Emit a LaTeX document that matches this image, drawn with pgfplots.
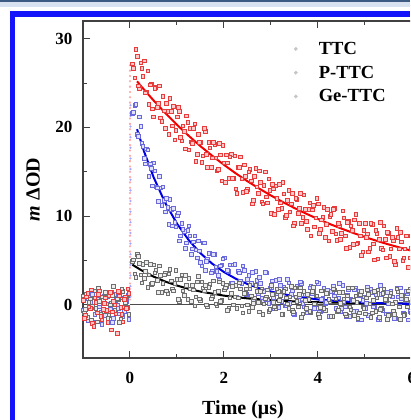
\documentclass[border=0pt]{standalone}
\usepackage{pgfplots}
\pgfplotsset{compat=1.18}
\usepackage{pgfplotstable}
\usepackage{fontspec}
\setmainfont{Liberation Serif}
\definecolor{frameblue}{RGB}{20,20,250}
\definecolor{topdark}{RGB}{60,90,130}
\definecolor{toplight}{RGB}{215,225,240}
\definecolor{redpt}{RGB}{232,60,60}
\definecolor{bluept}{RGB}{105,105,220}
\definecolor{graypt}{RGB}{110,110,110}

% Ge-TTC, two interleaved sample sets
\pgfplotstableread[row sep=\\]{
t y\\
-1.00 0.5\\ -0.95 -1.2\\ -0.90 1.3\\ -0.85 -0.4\\ -0.80 -2.1\\ -0.75 0.8\\ -0.70 -0.9\\ -0.65 1.6\\ -0.60 -1.6\\ -0.55 0.2\\
-0.50 -0.6\\ -0.45 1.1\\ -0.40 -2.8\\ -0.35 0.4\\ -0.30 -1.0\\ -0.25 1.5\\ -0.20 -0.3\\ -0.15 -1.9\\ -0.10 0.9\\ -0.05 1.8\\
0.05 27.2\\ 0.10 25.6\\ 0.15 28.0\\ 0.20 24.4\\ 0.25 26.7\\ 0.30 27.5\\ 0.35 24.0\\ 0.40 22.6\\ 0.45 24.9\\ 0.50 21.2\\
0.55 24.5\\ 0.60 22.7\\ 0.65 21.1\\ 0.70 23.5\\ 0.75 19.9\\ 0.80 21.8\\ 0.85 23.3\\ 0.90 20.2\\ 0.95 18.6\\ 1.00 21.2\\
1.05 21.8\\ 1.10 18.5\\ 1.15 19.6\\ 1.20 21.3\\ 1.25 17.5\\ 1.30 18.4\\ 1.35 19.9\\ 1.40 16.2\\ 1.45 19.2\\ 1.50 18.3\\
1.55 16.8\\ 1.60 19.6\\ 1.65 15.5\\ 1.70 17.7\\ 1.75 16.6\\ 1.80 18.1\\ 1.85 15.1\\ 1.90 18.2\\ 1.95 14.0\\ 2.00 16.0\\
2.05 16.9\\ 2.10 14.3\\ 2.15 17.0\\ 2.20 14.3\\ 2.25 13.1\\ 2.30 15.5\\ 2.35 16.7\\ 2.40 12.7\\ 2.45 14.5\\ 2.50 13.0\\
2.55 15.3\\ 2.60 11.4\\ 2.65 14.5\\ 2.70 13.3\\ 2.75 15.1\\ 2.80 11.6\\ 2.85 13.5\\ 2.90 12.2\\ 2.95 14.2\\ 3.00 10.3\\
3.05 13.1\\ 3.10 13.4\\ 3.15 10.8\\ 3.20 11.5\\ 3.25 13.8\\ 3.30 9.9\\ 3.35 11.8\\ 3.40 10.5\\ 3.45 12.6\\ 3.50 9.2\\
3.55 11.9\\ 3.60 10.9\\ 3.65 9.2\\ 3.70 12.4\\ 3.75 9.4\\ 3.80 10.8\\ 3.85 7.8\\ 3.90 11.2\\ 3.95 9.8\\ 4.00 11.4\\
4.05 8.5\\ 4.10 9.9\\ 4.15 7.6\\ 4.20 10.8\\ 4.25 10.0\\ 4.30 8.3\\ 4.35 10.9\\ 4.40 7.3\\ 4.45 8.9\\ 4.50 8.1\\
4.55 9.8\\ 4.60 6.4\\ 4.65 9.4\\ 4.70 8.9\\ 4.75 6.8\\ 4.80 10.2\\ 4.85 7.0\\ 4.90 7.8\\ 4.95 6.0\\ 5.00 9.2\\
5.05 8.0\\ 5.10 6.4\\ 5.15 9.1\\ 5.20 5.1\\ 5.25 8.1\\ 5.30 7.4\\ 5.35 6.4\\ 5.40 8.9\\ 5.45 5.3\\ 5.50 8.1\\
5.55 6.3\\ 5.60 7.3\\ 5.65 4.6\\ 5.70 7.6\\ 5.75 8.2\\ 5.80 5.0\\ 5.85 6.3\\ 5.90 7.8\\ 5.95 5.3\\ 6.00 4.3\\
6.05 6.9\\ 6.10 7.9\\ 6.15 4.8\\ 6.20 6.3\\
-0.975 -1.5\\ -0.925 0.9\\ -0.875 -0.2\\ -0.825 1.7\\ -0.775 -2.4\\ -0.725 0.3\\ -0.675 1.2\\ -0.625 -1.3\\ -0.575 -0.5\\ -0.525 0.8\\
-0.475 -2.0\\ -0.425 1.4\\ -0.375 -0.8\\ -0.325 0.0\\ -0.275 -3.2\\ -0.225 1.0\\ -0.175 -1.1\\ -0.125 0.6\\ -0.075 -0.4\\ -0.025 1.3\\
0.075 26.7\\ 0.125 28.8\\ 0.175 24.7\\ 0.225 27.3\\ 0.275 25.8\\ 0.325 23.9\\ 0.375 26.4\\ 0.425 24.8\\ 0.475 22.1\\ 0.525 24.4\\
0.575 22.3\\ 0.625 24.7\\ 0.675 20.7\\ 0.725 21.9\\ 0.775 22.7\\ 0.825 19.2\\ 0.875 21.8\\ 0.925 22.4\\ 0.975 19.7\\ 1.025 22.3\\
1.075 18.9\\ 1.125 20.2\\ 1.175 17.6\\ 1.225 20.6\\ 1.275 19.9\\ 1.325 18.2\\ 1.375 20.4\\ 1.425 17.0\\ 1.475 18.3\\ 1.525 16.1\\
1.575 19.9\\ 1.625 17.0\\ 1.675 18.3\\ 1.725 15.5\\ 1.775 18.3\\ 1.825 16.6\\ 1.875 15.3\\ 1.925 16.9\\ 1.975 18.0\\ 2.025 13.8\\
2.075 16.0\\ 2.125 16.7\\ 2.175 14.3\\ 2.225 16.8\\ 2.275 12.6\\ 2.325 15.5\\ 2.375 14.2\\ 2.425 15.8\\ 2.475 12.8\\ 2.525 15.0\\
2.575 14.0\\ 2.625 11.8\\ 2.675 15.4\\ 2.725 12.6\\ 2.775 13.8\\ 2.825 11.4\\ 2.875 15.0\\ 2.925 11.5\\ 2.975 12.9\\ 3.025 13.6\\
3.075 10.2\\ 3.125 12.0\\ 3.175 13.6\\ 3.225 10.9\\ 3.275 12.5\\ 3.325 10.1\\ 3.375 12.9\\ 3.425 11.4\\ 3.475 8.9\\ 3.525 12.0\\
3.575 10.3\\ 3.625 12.6\\ 3.675 9.9\\ 3.725 10.8\\ 3.775 8.5\\ 3.825 11.5\\ 3.875 10.7\\ 3.925 8.8\\ 3.975 12.0\\ 4.025 8.1\\
4.075 9.6\\ 4.125 11.0\\ 4.175 9.1\\ 4.225 7.2\\ 4.275 10.2\\ 4.325 10.8\\ 4.375 8.0\\ 4.425 9.2\\ 4.475 7.4\\ 4.525 10.6\\
4.575 7.8\\ 4.625 9.3\\ 4.675 6.5\\ 4.725 8.4\\ 4.775 9.6\\ 4.825 6.9\\ 4.875 9.2\\ 4.925 5.6\\ 4.975 8.4\\ 5.025 7.6\\
5.075 6.0\\ 5.125 9.2\\ 5.175 6.9\\ 5.225 8.4\\ 5.275 5.2\\ 5.325 9.3\\ 5.375 6.2\\ 5.425 7.4\\ 5.475 8.2\\ 5.525 5.5\\
5.575 7.6\\ 5.625 4.9\\ 5.675 8.6\\ 5.725 6.3\\ 5.775 7.1\\ 5.825 5.3\\ 5.875 7.8\\ 5.925 4.2\\ 5.975 6.4\\ 6.025 7.2\\
6.075 5.4\\ 6.125 7.7\\ 6.175 4.3\\ 6.225 6.7\\
}\redT

% P-TTC
\pgfplotstableread[row sep=\\]{
t y\\
-1.00 -0.6\\ -0.95 0.9\\ -0.90 -1.8\\ -0.85 0.3\\ -0.80 1.2\\ -0.75 -1.1\\ -0.70 0.6\\ -0.65 -0.2\\ -0.60 -2.2\\ -0.55 1.0\\
-0.50 0.1\\ -0.45 -0.9\\ -0.40 1.4\\ -0.35 -1.5\\ -0.30 0.5\\ -0.25 -0.4\\ -0.20 0.8\\ -0.15 -1.3\\ -0.10 0.2\\ -0.05 1.1\\
0.05 21.6\\ 0.10 22.5\\ 0.15 19.2\\ 0.20 21.2\\ 0.25 18.2\\ 0.30 16.5\\ 0.35 17.6\\ 0.40 14.5\\ 0.45 15.4\\ 0.50 16.0\\
0.55 13.3\\ 0.60 11.7\\ 0.65 13.2\\ 0.70 13.3\\ 0.75 10.5\\ 0.80 11.0\\ 0.85 11.9\\ 0.90 8.9\\ 0.95 9.3\\ 1.00 10.1\\
1.05 7.2\\ 1.10 9.2\\ 1.15 8.3\\ 1.20 7.0\\ 1.25 8.9\\ 1.30 5.7\\ 1.35 7.1\\ 1.40 6.2\\ 1.45 7.2\\ 1.50 4.8\\
1.55 7.0\\ 1.60 3.9\\ 1.65 5.2\\ 1.70 5.8\\ 1.75 3.8\\ 1.80 5.7\\ 1.85 3.8\\ 1.90 2.8\\ 1.95 4.5\\ 2.00 5.3\\
2.05 2.1\\ 2.10 3.8\\ 2.15 2.4\\ 2.20 4.5\\ 2.25 0.9\\ 2.30 3.8\\ 2.35 2.7\\ 2.40 4.4\\ 2.45 1.3\\ 2.50 2.9\\
2.55 1.8\\ 2.60 3.7\\ 2.65 0.3\\ 2.70 2.8\\ 2.75 3.1\\ 2.80 0.8\\ 2.85 1.5\\ 2.90 3.6\\ 2.95 0.2\\ 3.00 1.9\\
3.05 0.8\\ 3.10 2.8\\ 3.15 -0.3\\ 3.20 2.2\\ 3.25 1.4\\ 3.30 -0.1\\ 3.35 2.9\\ 3.40 0.2\\ 3.45 1.6\\ 3.50 -1.1\\
3.55 2.1\\ 3.60 0.9\\ 3.65 2.4\\ 3.70 -0.2\\ 3.75 1.2\\ 3.80 -0.9\\ 3.85 2.1\\ 3.90 1.5\\ 3.95 0.0\\ 4.00 2.4\\
4.05 -0.8\\ 4.10 0.8\\ 4.15 0.1\\ 4.20 1.7\\ 4.25 -1.3\\ 4.30 1.5\\ 4.35 1.0\\ 4.40 -0.8\\ 4.45 2.4\\ 4.50 -0.4\\
4.55 0.4\\ 4.60 -1.3\\ 4.65 1.7\\ 4.70 0.7\\ 4.75 -0.7\\ 4.80 1.9\\ 4.85 -1.7\\ 4.90 1.1\\ 4.95 0.5\\ 5.00 -0.4\\
5.05 2.0\\ 5.10 -1.2\\ 5.15 1.4\\ 5.20 -0.2\\ 5.25 0.8\\ 5.30 -1.6\\ 5.35 1.2\\ 5.40 1.8\\ 5.45 -1.0\\ 5.50 0.2\\
5.55 1.5\\ 5.60 -0.7\\ 5.65 -1.5\\ 5.70 0.9\\ 5.75 1.9\\ 5.80 -0.9\\ 5.85 0.5\\ 5.90 1.3\\ 5.95 -0.7\\ 6.00 1.9\\
6.05 -1.7\\ 6.10 0.7\\ 6.15 2.1\\ 6.20 -0.3\\
-0.975 0.7\\ -0.925 -1.4\\ -0.875 1.1\\ -0.825 -0.3\\ -0.775 -1.9\\ -0.725 0.4\\ -0.675 1.5\\ -0.625 -0.8\\ -0.575 0.2\\ -0.525 -1.2\\
-0.475 0.9\\ -0.425 -0.5\\ -0.375 -2.0\\ -0.325 1.2\\ -0.275 0.0\\ -0.225 -1.0\\ -0.175 1.6\\ -0.125 -0.7\\ -0.075 0.4\\ -0.025 -1.6\\
0.075 21.7\\ 0.125 22.6\\ 0.175 19.0\\ 0.225 20.1\\ 0.275 17.9\\ 0.325 15.9\\ 0.375 17.5\\ 0.425 15.9\\ 0.475 13.4\\ 0.525 15.1\\
0.575 13.2\\ 0.625 14.5\\ 0.675 11.2\\ 0.725 11.8\\ 0.775 12.0\\ 0.825 9.1\\ 0.875 10.8\\ 0.925 10.9\\ 0.975 8.8\\ 1.025 10.4\\
1.075 7.8\\ 1.125 8.5\\ 1.175 6.4\\ 1.225 8.4\\ 1.275 7.8\\ 1.325 6.3\\ 1.375 7.8\\ 1.425 5.3\\ 1.475 6.1\\ 1.525 4.4\\
1.575 7.0\\ 1.625 4.9\\ 1.675 5.8\\ 1.725 3.6\\ 1.775 5.7\\ 1.825 4.3\\ 1.875 3.3\\ 1.925 4.4\\ 1.975 5.2\\ 2.025 2.2\\
2.075 3.9\\ 2.125 4.5\\ 2.175 2.4\\ 2.225 4.6\\ 2.275 0.9\\ 2.325 3.6\\ 2.375 2.4\\ 2.425 3.9\\ 2.475 1.2\\ 2.525 3.3\\
2.575 2.4\\ 2.625 0.5\\ 2.675 3.8\\ 2.725 1.3\\ 2.775 2.4\\ 2.825 0.4\\ 2.875 3.7\\ 2.925 0.6\\ 2.975 1.9\\ 3.025 2.7\\
3.075 -0.4\\ 3.125 1.3\\ 3.175 2.9\\ 3.225 0.4\\ 3.275 2.0\\ 3.325 -0.1\\ 3.375 2.5\\ 3.425 1.2\\ 3.475 -1.0\\ 3.525 1.9\\
3.575 0.5\\ 3.625 2.6\\ 3.675 0.2\\ 3.725 1.2\\ 3.775 -0.9\\ 3.825 1.9\\ 3.875 1.3\\ 3.925 -0.4\\ 3.975 2.6\\ 4.025 -0.8\\
4.075 0.6\\ 4.125 1.9\\ 4.175 0.3\\ 4.225 -1.3\\ 4.275 1.5\\ 4.325 2.1\\ 4.375 -0.4\\ 4.425 0.8\\ 4.475 -0.8\\ 4.525 2.2\\
4.575 -0.2\\ 4.625 1.1\\ 4.675 -1.3\\ 4.725 0.5\\ 4.775 1.7\\ 4.825 -0.7\\ 4.875 1.5\\ 4.925 -1.7\\ 4.975 0.9\\ 5.025 0.2\\
5.075 -1.2\\ 5.125 1.8\\ 5.175 -0.2\\ 5.225 1.2\\ 5.275 -1.6\\ 5.325 2.2\\ 5.375 -0.6\\ 5.425 0.6\\ 5.475 1.4\\ 5.525 -1.1\\
5.575 0.9\\ 5.625 -1.5\\ 5.675 1.9\\ 5.725 -0.1\\ 5.775 0.7\\ 5.825 -0.9\\ 5.875 1.5\\ 5.925 -1.7\\ 5.975 0.3\\ 6.025 1.1\\
6.075 -0.5\\ 6.125 1.7\\ 6.175 -1.3\\ 6.225 0.9\\
}\blueT

% TTC
\pgfplotstableread[row sep=\\]{
t y\\
-1.00 1.0\\ -0.95 -0.5\\ -0.90 -1.4\\ -0.85 0.7\\ -0.80 -0.1\\ -0.75 1.6\\ -0.70 -1.9\\ -0.65 0.4\\ -0.60 0.9\\ -0.55 -0.7\\
-0.50 1.3\\ -0.45 -1.2\\ -0.40 0.2\\ -0.35 2.1\\ -0.30 -0.8\\ -0.25 0.6\\ -0.20 -1.6\\ -0.15 1.5\\ -0.10 0.3\\ -0.05 -0.3\\
0.05 4.9\\ 0.10 3.5\\ 0.15 5.7\\ 0.20 4.7\\ 0.25 2.5\\ 0.30 3.0\\ 0.35 4.8\\ 0.40 3.4\\ 0.45 2.3\\ 0.50 4.5\\
0.55 3.9\\ 0.60 1.4\\ 0.65 3.3\\ 0.70 2.4\\ 0.75 3.6\\ 0.80 1.3\\ 0.85 4.0\\ 0.90 1.8\\ 0.95 2.4\\ 1.00 2.9\\
1.05 0.4\\ 1.10 3.4\\ 1.15 1.1\\ 1.20 2.2\\ 1.25 3.0\\ 1.30 0.4\\ 1.35 1.7\\ 1.40 0.9\\ 1.45 3.2\\ 1.50 0.5\\
1.55 1.9\\ 1.60 2.2\\ 1.65 -0.2\\ 1.70 2.3\\ 1.75 0.9\\ 1.80 1.4\\ 1.85 -0.1\\ 1.90 2.6\\ 1.95 0.5\\ 2.00 1.7\\
2.05 2.2\\ 2.10 -0.4\\ 2.15 1.3\\ 2.20 0.0\\ 2.25 2.2\\ 2.30 0.8\\ 2.35 1.8\\ 2.40 -0.9\\ 2.45 1.3\\ 2.50 0.0\\
2.55 2.2\\ 2.60 -0.3\\ 2.65 0.8\\ 2.70 1.5\\ 2.75 -0.8\\ 2.80 1.8\\ 2.85 0.1\\ 2.90 0.9\\ 2.95 -0.7\\ 3.00 2.2\\
3.05 0.3\\ 3.10 -0.4\\ 3.15 1.5\\ 3.20 1.1\\ 3.25 -1.1\\ 3.30 1.8\\ 3.35 0.1\\ 3.40 0.9\\ 3.45 -0.6\\ 3.50 1.9\\
3.55 0.4\\ 3.60 1.2\\ 3.65 -1.4\\ 3.70 1.5\\ 3.75 -0.4\\ 3.80 0.6\\ 3.85 -0.9\\ 3.90 2.0\\ 3.95 1.0\\ 4.00 -1.1\\
4.05 -0.3\\ 4.10 1.6\\ 4.15 -0.6\\ 4.20 1.3\\ 4.25 0.4\\ 4.30 -1.3\\ 4.35 1.7\\ 4.40 -0.8\\ 4.45 1.4\\ 4.50 0.0\\
4.55 0.7\\ 4.60 -1.2\\ 4.65 1.9\\ 4.70 -0.5\\ 4.75 0.5\\ 4.80 1.0\\ 4.85 -1.5\\ 4.90 1.2\\ 4.95 -0.2\\ 5.00 -1.0\\
5.05 1.7\\ 5.10 0.1\\ 5.15 -0.9\\ 5.20 1.5\\ 5.25 0.8\\ 5.30 -1.4\\ 5.35 -0.4\\ 5.40 1.8\\ 5.45 0.5\\ 5.50 -1.2\\
5.55 1.3\\ 5.60 -0.7\\ 5.65 0.3\\ 5.70 1.5\\ 5.75 -1.6\\ 5.80 1.0\\ 5.85 -1.1\\ 5.90 -0.2\\ 5.95 1.8\\ 6.00 0.6\\
6.05 -1.4\\ 6.10 1.6\\ 6.15 -0.6\\ 6.20 1.1\\
-0.975 -0.9\\ -0.925 1.2\\ -0.875 0.3\\ -0.825 -1.7\\ -0.775 0.8\\ -0.725 -0.4\\ -0.675 1.9\\ -0.625 -1.0\\ -0.575 0.5\\ -0.525 1.4\\
-0.475 -1.5\\ -0.425 0.0\\ -0.375 1.1\\ -0.325 -0.6\\ -0.275 0.7\\ -0.225 -2.0\\ -0.175 1.8\\ -0.125 -0.2\\ -0.075 0.9\\ -0.025 -1.1\\
0.075 5.1\\ 0.125 3.1\\ 0.175 5.5\\ 0.225 3.4\\ 0.275 4.6\\ 0.325 3.8\\ 0.375 2.0\\ 0.425 4.6\\ 0.475 2.4\\ 0.525 3.6\\
0.575 2.8\\ 0.625 4.4\\ 0.675 1.4\\ 0.725 3.4\\ 0.775 1.6\\ 0.825 3.5\\ 0.875 2.7\\ 0.925 1.6\\ 0.975 3.9\\ 1.025 0.6\\
1.075 2.9\\ 1.125 1.6\\ 1.175 3.3\\ 1.225 0.6\\ 1.275 1.8\\ 1.325 2.2\\ 1.375 -0.1\\ 1.425 2.6\\ 1.475 0.7\\ 1.525 2.6\\
1.575 1.6\\ 1.625 0.0\\ 1.675 2.0\\ 1.725 0.7\\ 1.775 2.7\\ 1.825 0.1\\ 1.875 1.5\\ 1.925 0.4\\ 1.975 2.4\\ 2.025 1.9\\
2.075 -0.6\\ 2.125 0.8\\ 2.175 2.1\\ 2.225 0.9\\ 2.275 -0.4\\ 2.325 2.5\\ 2.375 -0.1\\ 2.425 1.3\\ 2.475 1.8\\ 2.525 -0.7\\
2.575 1.0\\ 2.625 0.2\\ 2.675 2.2\\ 2.725 0.3\\ 2.775 1.5\\ 2.825 -1.1\\ 2.875 0.7\\ 2.925 1.7\\ 2.975 -0.5\\ 3.025 1.2\\
3.075 -0.2\\ 3.125 1.8\\ 3.175 0.5\\ 3.225 -1.1\\ 3.275 1.5\\ 3.325 0.8\\ 3.375 -0.4\\ 3.425 2.1\\ 3.475 -0.8\\ 3.525 0.9\\
3.575 -0.2\\ 3.625 1.9\\ 3.675 -1.0\\ 3.725 0.5\\ 3.775 1.2\\ 3.825 -0.7\\ 3.875 1.5\\ 3.925 0.1\\ 3.975 1.0\\ 4.025 -1.4\\
4.075 1.6\\ 4.125 -0.4\\ 4.175 1.3\\ 4.225 0.6\\ 4.275 -1.3\\ 4.325 1.8\\ 4.375 0.7\\ 4.425 -0.6\\ 4.475 0.2\\ 4.525 1.4\\
4.575 -1.0\\ 4.625 1.0\\ 4.675 -0.2\\ 4.725 1.9\\ 4.775 -1.2\\ 4.825 0.3\\ 4.875 -0.9\\ 4.925 1.5\\ 4.975 -0.4\\ 5.025 0.8\\
5.075 1.2\\ 5.125 -1.4\\ 5.175 0.5\\ 5.225 -0.7\\ 5.275 1.7\\ 5.325 -0.5\\ 5.375 1.3\\ 5.425 0.6\\ 5.475 -1.6\\ 5.525 1.0\\
5.575 0.1\\ 5.625 -1.1\\ 5.675 1.8\\ 5.725 -0.2\\ 5.775 1.1\\ 5.825 -1.2\\ 5.875 0.6\\ 5.925 1.6\\ 5.975 -0.9\\ 6.025 0.3\\
6.075 0.8\\ 6.125 -1.4\\ 6.175 1.5\\ 6.225 -0.4\\
}\blackT

\begin{document}
\begin{tikzpicture}[x=1pt,y=1pt]
\path[use as bounding box] (0,0) rectangle (410,420);
\clip (0,0) rectangle (410,420);
\fill[white] (0,0) rectangle (410,420);
\fill[toplight] (0,413) rectangle (410,418);
\fill[topdark] (0,418) rectangle (410,420);
\fill[frameblue] (10,0) rectangle (15,409);
\fill[frameblue] (10,403) rectangle (410,409);
\begin{axis}[
  at={(83pt,62pt)}, anchor=south west,
  scale only axis, width=376pt, height=337pt,
  xmin=-1, xmax=7, ymin=-6, ymax=32,
  xtick={0,2,4,6}, ytick={0,10,20,30},
  minor x tick num=1, minor y tick num=1,
  tick align=inside, xtick pos=both, ytick pos=left,
  major tick length=7pt, minor tick length=4pt,
  axis line style={line width=1.2pt, draw=black!75},
  every tick/.style={black!75, line width=1pt},
  /pgf/number format/assume math mode=true,
  ticklabel style={font=\fontsize{17}{19}\selectfont\bfseries},
  xticklabel style={yshift=-11pt},
  yticklabel style={xshift=-7pt},
  xlabel={Time (μs)},
  ylabel={\textit{m} ΔOD},
  label style={font=\fontsize{20}{23}\selectfont\bfseries},
  xlabel style={at={(rel axis cs:0.4255,0)}, anchor=center, yshift=-52pt},
  ylabel style={at={(rel axis cs:0,0.5)}, anchor=center, yshift=50pt},
  legend style={at={(axis cs:3.42,30.1)}, anchor=north west, draw=none, fill=none,
    font=\fontsize{18.5}{21}\selectfont\bfseries, row sep=6pt},
  legend cell align=left,
]
\addlegendimage{legend image code/.code={\fill[gray!45] (0pt,0pt) circle (1.7pt); \path[draw=none,fill=none] (0pt,0pt) -- (21pt,0pt);}}
\addlegendentry{TTC}
\addlegendimage{legend image code/.code={\fill[gray!45] (0pt,0pt) circle (1.7pt); \path[draw=none,fill=none] (0pt,0pt) -- (21pt,0pt);}}
\addlegendentry{P-TTC}
\addlegendimage{legend image code/.code={\fill[gray!45] (0pt,0pt) circle (1.7pt); \path[draw=none,fill=none] (0pt,0pt) -- (21pt,0pt);}}
\addlegendentry{Ge-TTC}
% baseline
\addplot[black!70, line width=1pt, forget plot] coordinates {(0,0) (7,0)};
% rise columns at time zero
\addplot[only marks, mark=*, mark size=0.9pt, draw=red!35, fill=red!35, forget plot] coordinates {
(0,0.6)(0,1.2)(0,1.8)(0,2.4)(0,3.0)(0,3.6)(0,4.2)(0,4.8)(0,5.4)(0,6.0)(0,6.6)(0,7.2)(0,7.8)(0,8.4)(0,9.0)
(0,9.6)(0,10.2)(0,10.8)(0,11.4)(0,12.0)(0,12.6)(0,13.2)(0,13.8)(0,14.4)(0,15.0)(0,15.6)(0,16.2)(0,16.8)
(0,17.4)(0,18.0)(0,18.6)(0,19.2)(0,19.8)(0,20.4)(0,21.0)(0,21.6)(0,22.2)(0,22.8)(0,23.4)(0,24.0)(0,24.6)
(0,25.2)(0,25.8)(0,26.4)(0,27.0)};
\addplot[only marks, mark=*, mark size=0.9pt, draw=blue!35, fill=blue!35, forget plot] coordinates {
(0.01,0.9)(0.01,2.1)(0.01,3.3)(0.01,4.5)(0.01,5.7)(0.01,6.9)(0.01,8.1)(0.01,9.3)(0.01,10.5)(0.01,11.7)
(0.01,12.9)(0.01,14.1)(0.01,15.3)(0.01,16.5)(0.01,17.7)(0.01,18.9)(0.01,20.1)(0.01,21.3)(0.01,22.5)};
% scatter data
\addplot[only marks, mark=square*, mark size=1.8pt, mark options={draw=bluept, fill=blue!12, line width=0.5pt}, forget plot] table[x=t,y=y] {\blueT};
\addplot[only marks, mark=square*, mark size=1.8pt, mark options={draw=graypt, fill=gray!15, line width=0.5pt}, forget plot] table[x=t,y=y] {\blackT};
\addplot[only marks, mark=square*, mark size=1.8pt, mark options={draw=redpt, fill=red!22, line width=0.5pt}, forget plot] table[x=t,y=y] {\redT};
% fits
\addplot[black, line width=2pt, forget plot] coordinates {
(0.05,4.52)(0.25,3.87)(0.5,3.18)(0.75,2.62)(1,2.17)(1.25,1.79)(1.5,1.49)(2,1.03)(2.5,0.72)(3,0.52)(3.5,0.38)(4,0.29)(5,0.18)(6,0.14)(7,0.11)};
\addplot[blue!90!black, line width=2pt, forget plot] coordinates {
(0.15,19.8)(0.3,17.28)(0.5,14.41)(0.75,11.48)(1,9.15)(1.25,7.29)(1.5,5.81)(1.75,4.63)(2,3.69)(2.25,2.94)(2.5,2.34)(2.75,1.87)(3,1.49)(3.5,0.95)(4,0.60)(4.5,0.38)(5,0.24)(5.5,0.15)(6,0.10)(7,0.04)};
\addplot[red!95!black, line width=2pt, forget plot] coordinates {
(0.15,25.2)(0.25,24.56)(0.5,23.05)(0.75,21.63)(1,20.29)(1.25,19.05)(1.5,17.88)(1.75,16.80)(2,15.78)(2.25,14.82)(2.5,13.93)(2.75,13.10)(3,12.32)(3.25,11.59)(3.5,10.91)(3.75,10.27)(4,9.67)(4.25,9.11)(4.5,8.59)(4.75,8.10)(5,7.64)(5.25,7.21)(5.5,6.81)(5.75,6.44)(6,6.08)(6.25,5.75)(6.5,5.45)(7,4.89)};
\end{axis}
\end{tikzpicture}
\end{document}
